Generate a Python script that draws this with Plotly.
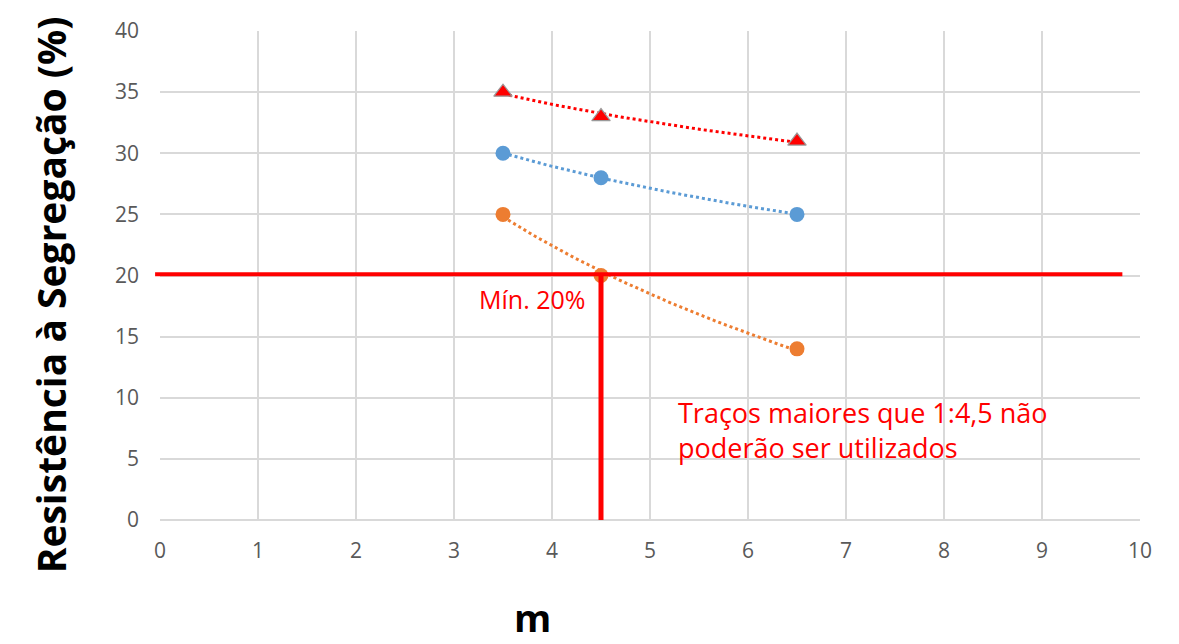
import numpy as np
import plotly.graph_objects as go

m_vals = [3.5, 4.5, 6.5]
serie_vermelha = [35, 33, 31]
serie_azul = [30, 28, 25]
serie_laranja = [25, 20, 14]
limite_min = 20.1
m_limite = 4.5
x_ticks = list(range(0, 11))
y_ticks = list(range(0, 41, 5))

RED = "#FF0000"
BLUE = "#5B9BD5"
ORANGE = "#ED7D31"
GRID = "#D9D9D9"

fig = go.Figure()


def log_trend(x, y):
    x = np.array(x, float)
    y = np.array(y, float)
    b, a = np.polyfit(np.log(x), y, 1)
    xs = np.linspace(x.min(), x.max(), 60)
    return xs, a + b * np.log(xs)


for ys, color in [(serie_vermelha, RED), (serie_azul, BLUE), (serie_laranja, ORANGE)]:
    tx, ty = log_trend(m_vals, ys)
    fig.add_trace(go.Scatter(x=tx, y=ty, mode="lines",
                             line=dict(color=color, width=3, dash="dot"),
                             hoverinfo="skip", showlegend=False))

fig.add_trace(go.Scatter(x=m_vals, y=serie_azul, mode="markers",
                         marker=dict(symbol="circle", size=15, color=BLUE),
                         showlegend=False))
fig.add_trace(go.Scatter(x=m_vals, y=serie_laranja, mode="markers",
                         marker=dict(symbol="circle", size=15, color=ORANGE),
                         showlegend=False))
fig.add_trace(go.Scatter(x=m_vals, y=serie_vermelha, mode="markers",
                         marker=dict(symbol="triangle-up", size=16, color=RED,
                                     line=dict(color="#9A9A9A", width=1.2)),
                         showlegend=False))

# limit lines
fig.add_shape(type="line", xref="paper", yref="y", x0=-0.005, x1=0.982,
              y0=limite_min, y1=limite_min, line=dict(color=RED, width=4))
fig.add_shape(type="line", xref="x", yref="y", x0=m_limite, x1=m_limite,
              y0=limite_min, y1=0, line=dict(color=RED, width=5))

fig.add_annotation(x=3.8, y=18.1, xref="x", yref="y", text="Mín. 20%",
                   showarrow=False, xanchor="center",
                   font=dict(family="Open Sans", size=25, color=RED))
fig.add_annotation(x=5.27, y=7.36, xref="x", yref="y",
                   text="Traços maiores que 1:4,5 não<br>poderão ser utilizados",
                   showarrow=False, xanchor="left", align="left",
                   font=dict(family="Open Sans", size=27, color=RED))

# axis titles
fig.add_annotation(x=-0.112, y=0.46, xref="paper", yref="paper",
                   text="<b>Resistência à Segregação (%)</b>", textangle=-90,
                   showarrow=False, xanchor="center", yanchor="middle",
                   font=dict(family="Open Sans", size=39, color="black"))
fig.add_annotation(x=0.38, y=-0.198, xref="paper", yref="paper",
                   text="<b>m</b>", showarrow=False,
                   xanchor="center", yanchor="middle",
                   font=dict(family="Open Sans", size=38, color="black"))

fig.update_layout(
    width=1179, height=644,
    margin=dict(l=160, r=39, t=31, b=124),
    paper_bgcolor="white", plot_bgcolor="white",
    font=dict(family="Open Sans", color="#595959", size=21),
)
fig.update_xaxes(range=[0, 10], tickvals=x_ticks, showgrid=True, gridcolor=GRID,
                 gridwidth=2, zeroline=False, showline=False, ticks="",
                 ticklabelstandoff=16,
                 tickfont=dict(size=21, color="#595959"))
fig.update_yaxes(range=[0, 40], tickvals=y_ticks, showgrid=True, gridcolor=GRID,
                 gridwidth=2, zeroline=True, zerolinecolor=GRID, zerolinewidth=2,
                 showline=False, ticks="", ticklabelstandoff=20,
                 tickfont=dict(size=21, color="#595959"))

fig.write_html("out.html")
